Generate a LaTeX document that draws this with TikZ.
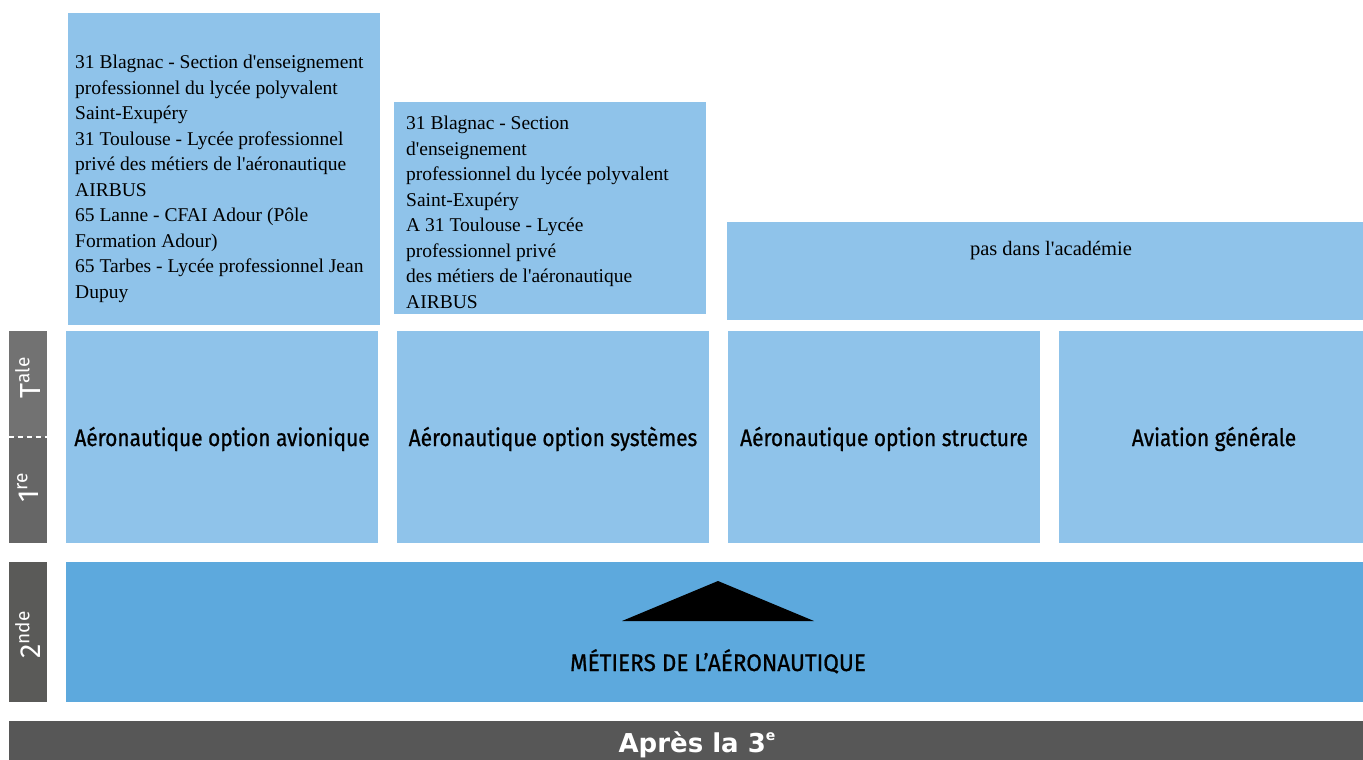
\documentclass[tikz,border=0pt]{standalone}
\usepackage{fontspec}
\setmainfont{Liberation Serif}
\newfontfamily\condsans[FakeStretch=0.87,FakeBold=0.8]{Fira Sans}
\newfontfamily\capsans[FakeStretch=0.94,FakeBold=0.8]{Fira Sans}
\newfontfamily\barsans{Fira Sans}
\newfontfamily\widesans{DejaVu Sans}
\newcommand\ap{\textquotesingle}
\definecolor{lightblue}{HTML}{8FC3EA}
\definecolor{midblue}{HTML}{5DA9DD}
\definecolor{grayA}{HTML}{727272}
\definecolor{grayB}{HTML}{666666}
\definecolor{grayC}{HTML}{5A5A58}
\definecolor{grayD}{HTML}{575757}
\begin{document}
\begin{tikzpicture}[x=1pt,y=-1pt,
  optlabel/.style={font=\condsans\fontsize{24}{28}\selectfont,text=black,inner sep=0pt},
  listtext/.style={font=\fontsize{19.5}{25.5}\selectfont,align=left,inner sep=0pt,anchor=base west},
  sidelabel/.style={font=\barsans\fontsize{29}{32}\selectfont,text=white,rotate=90,inner sep=0pt}]
\useasboundingbox (0,0) rectangle (1363,760);
% upper school lists
\fill[lightblue] (68,13) rectangle (380,325);
\fill[lightblue] (394,102) rectangle (706,314);
\fill[lightblue] (727,222) rectangle (1363,320);
\node[listtext] (l1) at (75,298) {31 Blagnac - Section d\ap enseignement\\professionnel du lycée polyvalent\\Saint-Exupéry\\31 Toulouse - Lycée professionnel\\privé des métiers de l\ap aéronautique\\AIRBUS\\65 Lanne - CFAI Adour (Pôle\\Formation Adour)\\65 Tarbes - Lycée professionnel Jean\\Dupuy};
\node[listtext] (l2) at (406,308) {31 Blagnac - Section\\d\ap enseignement\\professionnel du lycée polyvalent\\Saint-Exupéry\\A 31 Toulouse - Lycée\\professionnel privé\\des métiers de l\ap aéronautique\\AIRBUS};
\node[font=\fontsize{20.5}{22}\selectfont,inner sep=0pt,anchor=base] (l3) at (1051,255) {pas dans l\ap académie};
% option boxes
\fill[lightblue] (66,331) rectangle (378,543);
\fill[lightblue] (397,331) rectangle (709,543);
\fill[lightblue] (728,331) rectangle (1040,543);
\fill[lightblue] (1059,331) rectangle (1363,543);
\node[optlabel] (o1) at (222,439) {Aéronautique option avionique};
\node[optlabel] (o2) at (553,439) {Aéronautique option systèmes};
\node[optlabel] (o3) at (884,439) {Aéronautique option structure};
\node[optlabel] (o4) at (1214,439) {Aviation générale};
% seconde
\fill[midblue] (66,562) rectangle (1363,702);
\fill[black] (622,621) -- (718,581) -- (814,621) -- cycle;
\node[font=\capsans\fontsize{24}{28}\selectfont,inner sep=0pt,anchor=base] (m) at (718,671) {MÉTIERS DE L’AÉRONAUTIQUE};
% side bars
\fill[grayA] (9,331) rectangle (47,437);
\fill[grayB] (9,437) rectangle (47,543);
\draw[white,line width=1.5pt,dash pattern=on 5pt off 4pt] (9,437) -- (47,437);
\fill[grayC] (9,562) rectangle (47,702);
\node[sidelabel] (tale) at (28,378) {T\raisebox{0.4em}{\fontsize{19}{20}\selectfont ale}};
\node[sidelabel] (pre) at (28,488) {1\raisebox{0.4em}{\fontsize{19}{20}\selectfont re}};
\node[sidelabel] (sec) at (28,635) {2\raisebox{0.4em}{\fontsize{19}{20}\selectfont nde}};
% bottom bar
\fill[grayD] (9,721) rectangle (1363,760);
\node[font=\widesans\bfseries\fontsize{26}{30}\selectfont,text=white,anchor=base,inner sep=0pt] (ap) at (697,752) {Après la 3\raisebox{0.45em}{\fontsize{14}{16}\selectfont e}};
\end{tikzpicture}
\end{document}
